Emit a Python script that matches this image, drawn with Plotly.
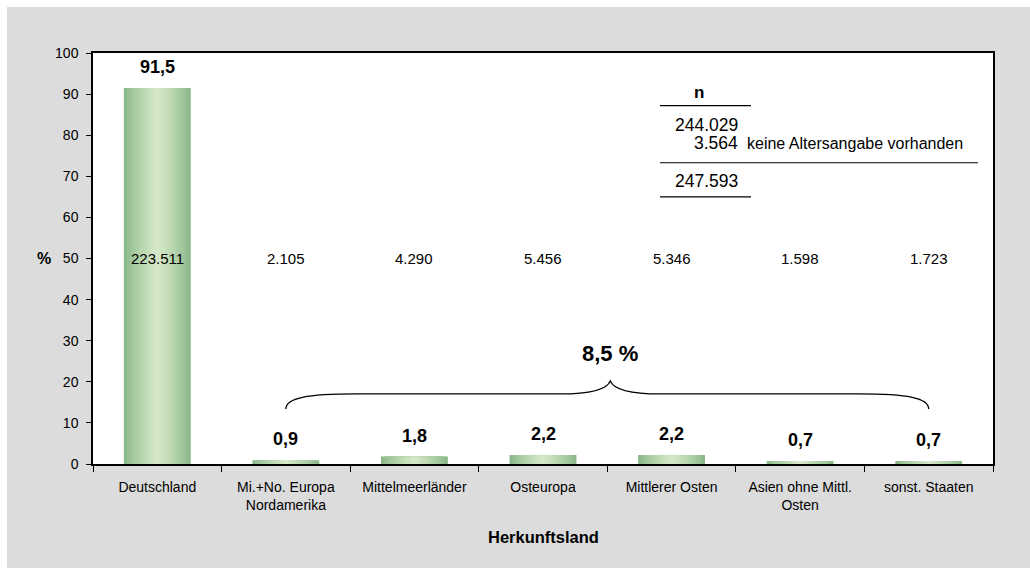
import plotly.graph_objects as go

# --- data -------------------------------------------------------------
categories = [
    "Deutschland",
    "Mi.+No. Europa<br>Nordamerika",
    "Mittelmeerländer",
    "Osteuropa",
    "Mittlerer Osten",
    "Asien ohne Mittl.<br>Osten",
    "sonst. Staaten",
]
percent = [91.5, 0.9, 1.8, 2.2, 2.2, 0.7, 0.7]
counts = [223511, 2105, 4290, 5456, 5346, 1598, 1723]
no_age_count = 3564
no_age_label = "keine Altersangabe vorhanden"
y_ticks = list(range(0, 101, 10))

# --- geometry ---------------------------------------------------------
W, H = 1030, 568
M = dict(l=93, r=37, t=53, b=104)
PW = W - M["l"] - M["r"]
PH = H - M["t"] - M["b"]
N = len(categories)
PX = 1.0 / PW          # one pixel in paper-x units
PY = 100.0 / PH        # one pixel in y-data units

FONT = "Liberation Sans, Arial, sans-serif"


def de_int(v):
    return f"{v:,}".replace(",", ".")


def de_dec(v):
    return f"{v:.1f}".replace(".", ",")


def cat_x(i):
    return (i + 0.5) / N


fig = go.Figure()

# bars with a horizontal green gradient: stacked overlays, narrowing and brightening
BAR_W = 0.52
LAYERS = 12
edge = (138, 184, 138)
centre = (212, 232, 199)
for k in range(LAYERS):
    t = (k / (LAYERS - 1)) ** 0.8
    col = tuple(round(e + (c - e) * t) for e, c in zip(edge, centre))
    fig.add_trace(go.Bar(
        x=categories, y=percent,
        width=BAR_W * (1 - k / LAYERS),
        marker=dict(color="rgb(%d,%d,%d)" % col, line=dict(width=0)),
        showlegend=False, hoverinfo="skip",
    ))

annotations = []

# percentage labels above bars
for c, p in zip(categories, percent):
    annotations.append(dict(
        x=c, y=p, xref="x", yref="y", text=f"<b>{de_dec(p)}</b>",
        showarrow=False, yanchor="bottom", yshift=9,
        font=dict(family=FONT, size=18, color="black"),
    ))

# case counts in a row at 50 %
for c, n in zip(categories, counts):
    annotations.append(dict(
        x=c, y=50, xref="x", yref="y", text=de_int(n),
        showarrow=False, font=dict(family=FONT, size=15, color="black"),
    ))

# brace over the non-German groups with their combined share
foreign_share = round(sum(percent[1:]), 1)
xL, xR = cat_x(1), cat_x(6)
xM = (xL + xR) / 2 + 3 * PX
y0 = 13.4
yb = y0 + 15 * PY
yt = y0 + 28 * PY
brace = (
    f"M {xL},{y0} C {xL},{y0 + 11 * PY} {xL + 21 * PX},{yb} {xL + 70 * PX},{yb} "
    f"L {xM - 50 * PX},{yb} "
    f"C {xM - 25 * PX},{yb} {xM - 4 * PX},{yb + 3 * PY} {xM},{yt} "
    f"C {xM + 4 * PX},{yb + 3 * PY} {xM + 25 * PX},{yb} {xM + 50 * PX},{yb} "
    f"L {xR - 70 * PX},{yb} "
    f"C {xR - 21 * PX},{yb} {xR},{y0 + 11 * PY} {xR},{y0}"
)
annotations.append(dict(
    x=xM, y=27, xref="paper", yref="y", text=f"<b>{de_dec(foreign_share)} %</b>",
    showarrow=False, yanchor="middle", font=dict(family=FONT, size=22, color="black"),
))

# n-table in the upper right
total_age = sum(counts)
total_all = total_age + no_age_count
tx0, tx1 = (660 - M["l"]) * PX, (751 - M["l"]) * PX
tx_long = (978 - M["l"]) * PX
tx_num = (740 - M["l"]) * PX
tx_note = (745 - M["l"]) * PX
annotations += [
    dict(x=(tx0 + tx1) / 2, y=90.4, xref="paper", yref="y", text="<b>n</b>",
         showarrow=False, yanchor="middle", font=dict(family=FONT, size=17, color="black")),
    dict(x=tx_num, y=82.6, xref="paper", yref="y", text=de_int(total_age),
         showarrow=False, xanchor="right", yanchor="middle",
         font=dict(family=FONT, size=17.5, color="black")),
    dict(x=tx_num, y=78.1, xref="paper", yref="y", text=de_int(no_age_count),
         showarrow=False, xanchor="right", yanchor="middle",
         font=dict(family=FONT, size=17.5, color="black")),
    dict(x=tx_note, y=78.0, xref="paper", yref="y", text=no_age_label,
         showarrow=False, xanchor="left", yanchor="middle",
         font=dict(family=FONT, size=16, color="black")),
    dict(x=tx_num, y=68.9, xref="paper", yref="y", text=de_int(total_all),
         showarrow=False, xanchor="right", yanchor="middle",
         font=dict(family=FONT, size=17.5, color="black")),
]

# axis titles
annotations += [
    dict(x=0.5, y=-73 * PY / 100, xref="paper", yref="paper", text="<b>Herkunftsland</b>",
         showarrow=False, yanchor="middle", font=dict(family=FONT, size=16.5, color="black")),
    dict(x=(35 - M["l"]) * PX, y=50, xref="paper", yref="y", text="<b>%</b>",
         showarrow=False, yanchor="middle", font=dict(family=FONT, size=16, color="black")),
]

line = dict(color="black", width=1.2)
shapes = [
    dict(type="path", path=brace, xref="paper", yref="y",
         line=dict(color="black", width=1.3)),
    dict(type="line", xref="paper", yref="y", x0=tx0, x1=tx1, y0=87.2, y1=87.2, line=line),
    dict(type="line", xref="paper", yref="y", x0=tx0, x1=tx_long, y0=73.3, y1=73.3, line=line),
    dict(type="line", xref="paper", yref="y", x0=tx0, x1=tx1, y0=65.0, y1=65.0, line=line),
    # thin white margin along the top and left edge of the grey panel
    dict(type="rect", xref="paper", yref="paper", layer="below",
         x0=-M["l"] * PX - 0.01, x1=(7 - M["l"]) * PX,
         y0=-M["b"] / PH - 0.01, y1=(PH + M["t"]) / PH + 0.01,
         fillcolor="white", line=dict(width=0)),
    dict(type="rect", xref="paper", yref="paper", layer="below",
         x0=-M["l"] * PX - 0.01, x1=(PW + M["r"]) * PX + 0.01,
         y0=(PH + M["t"] - 7) / PH, y1=(PH + M["t"]) / PH + 0.01,
         fillcolor="white", line=dict(width=0)),
]

fig.update_layout(
    width=W, height=H, margin=M,
    barmode="overlay",
    paper_bgcolor="#DCDCDC", plot_bgcolor="white",
    font=dict(family=FONT, size=14, color="black"),
    showlegend=False,
    annotations=annotations, shapes=shapes,
    xaxis=dict(
        type="category", range=[-0.5, N - 0.5],
        showline=True, linecolor="black", linewidth=1.5, mirror=True,
        ticks="outside", tickson="boundaries", ticklen=6, tickcolor="black",
        ticklabelstandoff=9, tickfont=dict(family=FONT, size=14, color="black"),
        showgrid=False, zeroline=False,
    ),
    yaxis=dict(
        range=[0, 100], tickvals=y_ticks,
        showline=True, linecolor="black", linewidth=1.5, mirror=True,
        ticks="outside", ticklen=5, tickcolor="black",
        ticklabelstandoff=5, tickfont=dict(family=FONT, size=14, color="black"),
        showgrid=False, zeroline=False,
    ),
)

fig.write_html("out.html")
